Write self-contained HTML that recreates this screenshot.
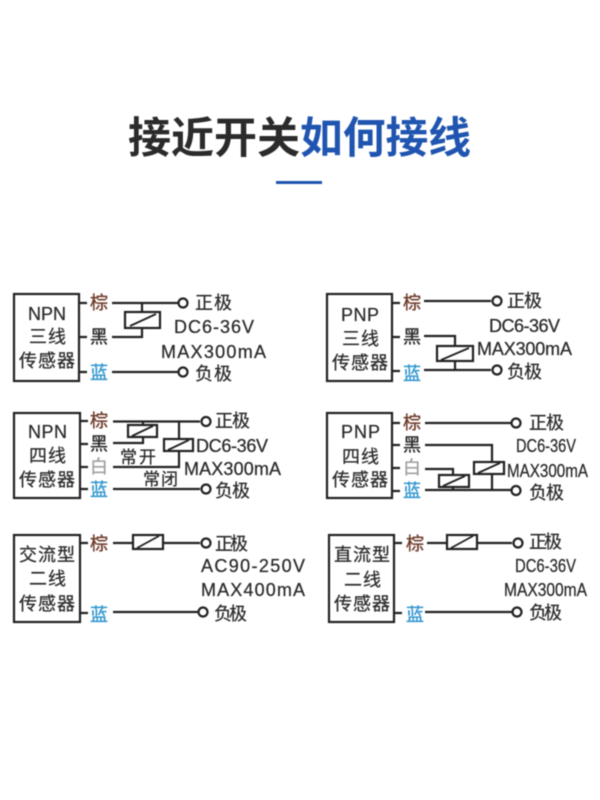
<!DOCTYPE html>
<html><head><meta charset="utf-8"><style>
html,body{margin:0;padding:0;background:#fff;width:600px;height:800px;overflow:hidden}
svg{display:block}
text{font-family:"Liberation Sans","Noto Sans CJK SC",sans-serif}
.t,.n,.c{fill:#2b2b2b;stroke:#2b2b2b;stroke-width:.25px}
.t,.n{font-size:18px}
.c{font-size:17px}
.br,.bk,.wh,.bl{font-size:18px;stroke-width:.35px}
.br{fill:#6e3b2a;stroke:#6e3b2a}
.bk{fill:#2b2b2b;stroke:#2b2b2b}
.wh{fill:#a0a0a0;stroke:#a0a0a0}
.bl{fill:#3497d0;stroke:#3497d0}
</style></head><body>
<svg width="600" height="800" viewBox="0 0 600 800" xmlns="http://www.w3.org/2000/svg">
<g style="filter:blur(.4px)">
<text x="128" y="153" font-size="43" font-weight="700" fill="#2b2b2b" textLength="172" lengthAdjust="spacingAndGlyphs">接近开关</text>
<text x="300" y="153" font-size="43" font-weight="700" fill="#1f55b0" textLength="171" lengthAdjust="spacingAndGlyphs">如何接线</text>
<rect x="276" y="181" width="46" height="3" fill="#1f55b0"/>

<g fill="none" stroke="#222" stroke-width="2.2">
<!-- 1 NPN 3 -->
<rect x="14" y="294" width="65" height="87"/>
<path d="M79 303H87M79 337H87M79 372H87M112 303H179M142 303V312M142 328V337H112M112 372H179"/>
<rect x="125" y="312" width="35" height="16"/><path d="M130 326L156 314" stroke-width="1.800"/>
<circle cx="183" cy="303" r="4.500"/><circle cx="183" cy="372" r="4.500"/>
<!-- 2 PNP 3 -->
<rect x="327" y="294" width="65" height="87"/>
<path d="M392 303H400M392 337H400M392 371H400M424 301H491M424 336H455V346M455 361V370M424 370H491"/>
<rect x="437" y="346" width="36" height="15"/><path d="M441 360L469 348" stroke-width="1.800"/>
<circle cx="497" cy="301" r="4.500"/><circle cx="497" cy="370" r="4.500"/>
<!-- 3 NPN 4 -->
<rect x="14" y="413" width="66" height="85"/>
<path d="M80 421H88M80 444H88M80 467H88M80 489H88M113 421.500H200M143 421V425M143 437V443H113M179 421V439M179 451V467H113M113 489H200"/>
<rect x="128" y="425" width="29" height="12"/><path d="M132 436L153 426" stroke-width="1.800"/>
<rect x="164" y="439" width="29" height="12"/><path d="M168 450L189 440" stroke-width="1.800"/>
<circle cx="206" cy="421.500" r="4.500"/><circle cx="206" cy="489" r="4.500"/>
<!-- 4 PNP 4 -->
<rect x="327" y="413" width="65" height="85"/>
<path d="M392 423H400M392 445H400M392 468H400M392 491H400M425 423H511M425 445H492V462M492 474V490M425 490H511M425 469H453V474M453 487V490"/>
<rect x="474" y="462" width="30" height="12"/><path d="M478 473L500 463" stroke-width="1.800"/>
<rect x="439" y="475" width="30" height="12"/><path d="M443 486L465 476" stroke-width="1.800"/>
<circle cx="516" cy="423" r="4.500"/><circle cx="516" cy="490.500" r="4.500"/>
<!-- 5 AC -->
<rect x="14" y="535" width="66" height="87"/>
<path d="M80 543H88M80 613H88M113 543H133M163 543H200M113 612H198"/>
<rect x="133" y="535" width="30" height="14"/><path d="M137 548L159 536" stroke-width="1.800"/>
<circle cx="206" cy="543" r="4.500"/><circle cx="203" cy="612" r="4.500"/>
<!-- 6 DC -->
<rect x="329" y="535" width="65" height="87"/>
<path d="M394 543H402M394 613H402M427 543H447M477 543H512M425 612H512"/>
<rect x="447" y="535" width="30" height="14"/><path d="M451 548L473 536" stroke-width="1.800"/>
<circle cx="518" cy="543" r="4.500"/><circle cx="517" cy="612" r="4.500"/>
</g>

<!-- box 1 -->
<text class="n" x="28" y="320" textLength="38">NPN</text>
<text class="t" x="29" y="343" textLength="37">三线</text>
<text class="t" x="19" y="367" textLength="56">传感器</text>
<text class="br" x="90" y="309">棕</text><text class="bk" x="90" y="343">黑</text><text class="bl" x="90" y="379">蓝</text>
<text class="t" x="195" y="309" textLength="37">正极</text><text class="t" x="195" y="380" textLength="37">负极</text>
<text class="n" x="174" y="333" textLength="80">DC6-36V</text>
<text class="n" x="161" y="358" textLength="105">MAX300mA</text>

<!-- box 2 -->
<text class="n" x="341" y="321" textLength="38">PNP</text>
<text class="t" x="342" y="345" textLength="37">三线</text>
<text class="t" x="332" y="369" textLength="56">传感器</text>
<text class="br" x="403" y="309">棕</text><text class="bk" x="403" y="343">黑</text><text class="bl" x="403" y="380">蓝</text>
<text class="t" x="507" y="307" textLength="35">正极</text><text class="t" x="507" y="378" textLength="35">负极</text>
<text class="n" x="489" y="332" textLength="71">DC6-36V</text>
<text class="n" x="477" y="355" textLength="95">MAX300mA</text>

<!-- box 3 -->
<text class="n" x="28" y="438" textLength="39">NPN</text>
<text class="t" x="29" y="462" textLength="37">四线</text>
<text class="t" x="19" y="486" textLength="56">传感器</text>
<text class="br" x="90" y="427">棕</text><text class="bk" x="90" y="450">黑</text><text class="wh" x="90" y="473">白</text><text class="bl" x="90" y="496">蓝</text>
<text class="c" x="120" y="463" textLength="36">常开</text><text class="c" x="143" y="485" textLength="35">常闭</text>
<text class="t" x="215" y="427" textLength="35">正极</text><text class="t" x="215" y="497" textLength="35">负极</text>
<text class="n" x="196" y="452" textLength="72">DC6-36V</text>
<text class="n" x="184" y="475" textLength="97">MAX300mA</text>

<!-- box 4 -->
<text class="n" x="341" y="438" textLength="39">PNP</text>
<text class="t" x="342" y="463" textLength="37">四线</text>
<text class="t" x="332" y="486" textLength="56">传感器</text>
<text class="br" x="403" y="429">棕</text><text class="bk" x="403" y="451">黑</text><text class="wh" x="403" y="474">白</text><text class="bl" x="403" y="497">蓝</text>
<text class="t" x="529" y="429" textLength="35">正极</text><text class="t" x="529" y="499" textLength="35">负极</text>
<text class="n" x="516" y="452" textLength="60" lengthAdjust="spacingAndGlyphs">DC6-36V</text>
<text class="n" x="507" y="477" textLength="81" lengthAdjust="spacingAndGlyphs">MAX300mA</text>

<!-- box 5 -->
<text class="t" x="19" y="561" textLength="56">交流型</text>
<text class="t" x="29" y="585" textLength="37">二线</text>
<text class="t" x="19" y="610" textLength="56">传感器</text>
<text class="br" x="90" y="550">棕</text><text class="bl" x="90" y="621">蓝</text>
<text class="t" x="215" y="550" textLength="33">正极</text><text class="t" x="214" y="620" textLength="33">负极</text>
<text class="n" x="201" y="572" textLength="104">AC90-250V</text>
<text class="n" x="201" y="596" textLength="104">MAX400mA</text>

<!-- box 6 -->
<text class="t" x="334" y="561" textLength="56">直流型</text>
<text class="t" x="344" y="586" textLength="37">二线</text>
<text class="t" x="334" y="610" textLength="56">传感器</text>
<text class="br" x="406" y="550">棕</text><text class="bl" x="406" y="621">蓝</text>
<text class="t" x="529" y="548" textLength="33">正极</text><text class="t" x="529" y="619" textLength="33">负极</text>
<text class="n" x="515" y="572" textLength="61" lengthAdjust="spacingAndGlyphs">DC6-36V</text>
<text class="n" x="504" y="596" textLength="83" lengthAdjust="spacingAndGlyphs">MAX300mA</text>
</g>
</svg>
</body></html>
